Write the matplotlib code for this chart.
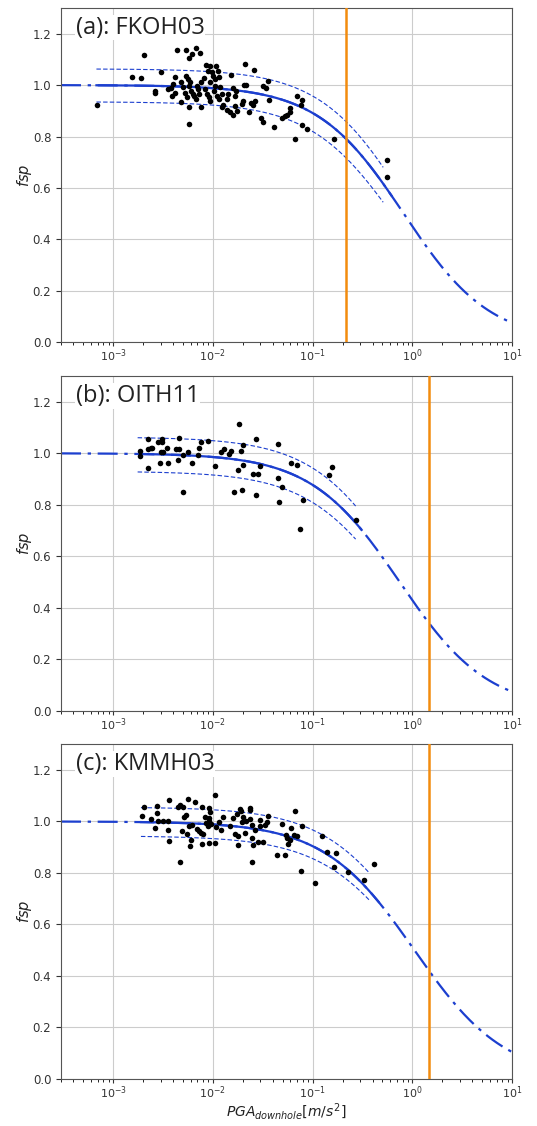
import numpy as np
import matplotlib.pyplot as plt

# panel titles and the vertical reference PGA line [m/s^2]
stations = ['(a): FKOH03', '(b): OITH11', '(c): KMMH03']
pga_ref = [0.217, 1.47, 1.48]

# hyperbolic fit fsp = amp / (1 + (pga / pga_r)**n) and its +/- bands
fit_pga_r = [0.82, 0.745, 1.047]
fit_n = [1.0, 0.978, 0.955]
upper_amp = [1.063, 1.063, 1.056]
upper_pga_r = [0.906, 0.82, 1.22]
lower_amp = [0.935, 0.93, 0.944]
lower_pga_r = [0.711, 0.696, 1.08]
# pga range covered by the records (solid fit) and by the bands
fit_range = [(6.8e-4, 0.62), (1.85e-3, 0.31), (1.9e-3, 0.46)]
band_range = [(6.8e-4, 0.51), (1.76e-3, 0.27), (1.9e-3, 0.37)]

# records: log10(PGA downhole) and fsp
a_log_pga = [-3.163, -2.811, -2.724, -2.691, -2.584, -2.577, -2.525, -2.447, -2.415, -2.408,
             -2.382, -2.398, -2.356, -2.272, -2.239, -2.207, -2.174, -2.132, -2.376, -2.317,
             -2.268, -2.252, -2.226, -2.236, -2.220, -2.187, -2.171, -2.203, -2.324, -2.236,
             -2.242, -2.122, -2.301, -2.278, -2.259, -2.154, -2.138, -2.161, -2.115, -2.089,
             -2.073, -2.050, -2.031, -2.008, -1.969, -1.950, -2.083, -2.057, -2.041, -2.024,
             -1.992, -1.959, -1.937, -1.911, -1.976, -1.927, -1.976, -1.943, -2.024, -1.998,
             -1.911, -1.894, -1.862, -1.829, -1.797, -1.754, -1.780, -1.862, -1.846, -1.823,
             -1.797, -1.771, -1.780, -1.706, -1.683, -1.667, -1.699, -1.673, -1.589, -1.641,
             -1.602, -1.576, -1.618, -1.514, -1.498, -1.498, -1.472, -1.446, -1.439, -1.390,
             -1.302, -1.276, -1.257, -1.231, -1.224, -1.179, -1.153, -1.107, -1.114, -1.107,
             -1.052, -0.789, -0.255, -0.255]
a_fsp = [0.922, 1.032, 1.026, 1.118, 0.978, 0.969, 1.049, 0.984, 0.987, 0.958,
         0.971, 1.004, 1.138, 1.138, 1.104, 1.121, 1.144, 1.125, 1.032, 1.013,
         1.036, 1.023, 1.010, 0.995, 0.978, 0.958, 0.945, 0.965, 0.935, 0.913,
         0.848, 0.916, 0.991, 0.971, 0.952, 0.984, 0.965, 0.997, 1.010, 1.026,
         1.078, 1.056, 1.075, 1.049, 1.073, 1.056, 0.984, 0.965, 0.952, 0.939,
         0.978, 0.958, 0.945, 0.965, 0.997, 0.991, 1.023, 1.030, 1.010, 1.036,
         0.913, 0.922, 0.904, 0.894, 0.883, 0.900, 0.919, 0.945, 0.965, 1.039,
         0.987, 0.978, 0.958, 0.926, 1.000, 1.000, 0.939, 1.082, 1.058, 0.896,
         0.922, 0.939, 0.930, 0.870, 0.855, 0.995, 0.990, 1.017, 0.943, 0.838,
         0.870, 0.878, 0.883, 0.910, 0.894, 0.790, 0.958, 0.942, 0.922, 0.844,
         0.831, 0.792, 0.707, 0.643]

b_log_pga = [-2.732, -2.732, -2.654, -2.651, -2.621, -2.611, -2.651, -2.554, -2.513, -2.510,
             -2.527, -2.446, -2.520, -2.497, -2.460, -2.369, -2.336, -2.346, -2.339, -2.302,
             -2.295, -2.248, -2.208, -2.151, -2.141, -2.117, -2.050, -1.983, -1.916, -1.893,
             -1.839, -1.815, -1.792, -1.738, -1.745, -1.698, -1.715, -1.698, -1.711, -1.597,
             -1.547, -1.530, -1.570, -1.570, -1.352, -1.352, -1.339, -1.302, -1.218, -1.158,
             -1.128, -1.094, -0.832, -0.809, -0.564]
b_fsp = [1.009, 0.990, 1.057, 1.016, 1.019, 1.022, 0.942, 1.042, 1.055, 1.045,
         0.962, 0.962, 1.003, 1.006, 1.019, 1.016, 1.016, 0.973, 1.058, 0.849,
         0.994, 1.003, 0.961, 0.994, 1.022, 1.045, 1.048, 0.951, 1.006, 1.016,
         0.999, 1.009, 0.849, 1.113, 0.936, 0.953, 1.009, 1.032, 0.856, 0.918,
         0.918, 0.949, 1.057, 0.838, 1.035, 0.905, 0.812, 0.870, 0.961, 0.955,
         0.704, 0.817, 0.916, 0.947, 0.740]

c_log_pga = [-2.711, -2.695, -2.621, -2.584, -2.557, -2.557, -2.554, -2.503, -2.453, -2.440,
             -2.446, -2.436, -2.352, -2.329, -2.302, -2.329, -2.312, -2.285, -2.268, -2.258,
             -2.218, -2.225, -2.248, -2.235, -2.208, -2.181, -2.158, -2.144, -2.121, -2.101,
             -2.114, -2.107, -2.081, -2.067, -2.050, -2.034, -2.034, -2.017, -2.034, -2.027,
             -2.037, -1.980, -1.980, -1.973, -1.940, -1.916, -1.899, -1.826, -1.782, -1.752,
             -1.745, -1.799, -1.758, -1.725, -1.715, -1.698, -1.681, -1.705, -1.664, -1.631,
             -1.624, -1.611, -1.604, -1.597, -1.547, -1.497, -1.604, -1.581, -1.530, -1.480,
             -1.456, -1.631, -1.530, -1.446, -1.362, -1.312, -1.272, -1.268, -1.255, -1.242,
             -1.228, -1.221, -1.185, -1.178, -1.161, -1.117, -1.111, -0.977, -0.909, -0.859,
             -0.782, -0.768, -0.641, -0.483, -0.389]
c_fsp = [1.022, 1.058, 1.010, 0.974, 1.062, 1.032, 1.000, 1.000, 1.003, 1.082,
         0.968, 0.925, 1.058, 1.065, 1.058, 0.844, 0.961, 1.019, 1.026, 0.952,
         0.929, 0.905, 1.087, 0.981, 0.987, 1.074, 0.970, 0.962, 0.955, 0.952,
         0.913, 1.056, 1.019, 0.994, 0.981, 1.013, 1.000, 0.991, 1.052, 1.035,
         0.918, 1.104, 0.916, 0.978, 0.996, 0.968, 1.019, 0.983, 0.951, 0.942,
         0.909, 1.013, 1.030, 1.048, 1.039, 1.019, 0.955, 0.996, 1.003, 1.009,
         1.052, 0.842, 0.935, 0.909, 0.922, 0.922, 0.987, 0.968, 0.983, 0.987,
         0.996, 1.045, 1.004, 1.022, 0.870, 0.991, 0.870, 0.947, 0.935, 0.913,
         0.926, 0.974, 0.948, 1.039, 0.945, 0.808, 0.981, 0.760, 0.942, 0.883,
         0.822, 0.877, 0.805, 0.773, 0.834]

records = [(a_log_pga, a_fsp), (b_log_pga, b_fsp), (c_log_pga, c_fsp)]

BLUE = '#1c3fcf'
ORANGE = '#f28c0f'


def hyper(pga, amp, pga_r, n):
    return amp / (1.0 + (pga / pga_r) ** n)


fig = plt.figure(figsize=(5.37, 11.26), dpi=100)
bottoms = [0.6960, 0.3690, 0.0420]

for i in range(3):
    ax = fig.add_axes([0.1136, bottoms[i], 0.840, 0.2970])
    ax.set_xscale('log')
    ax.set_xlim(3e-4, 10)
    ax.set_ylim(0, 1.3)
    ax.grid(True, which='major', color='#cccccc', lw=0.8)
    ax.set_axisbelow(True)

    # full model (dash-dot) and the fitted range (solid)
    x_all = np.logspace(np.log10(3e-4), 1, 300)
    ax.plot(x_all, hyper(x_all, 1.0, fit_pga_r[i], fit_n[i]), '-.', color=BLUE, lw=1.6,
            dashes=(9, 3, 1.5, 3))
    x_fit = np.logspace(np.log10(fit_range[i][0]), np.log10(fit_range[i][1]), 200)
    ax.plot(x_fit, hyper(x_fit, 1.0, fit_pga_r[i], fit_n[i]), '-', color=BLUE, lw=1.6)
    x_band = np.logspace(np.log10(band_range[i][0]), np.log10(band_range[i][1]), 200)
    ax.plot(x_band, hyper(x_band, upper_amp[i], upper_pga_r[i], fit_n[i]), '--',
            color=BLUE, lw=0.8, dashes=(4, 2))
    ax.plot(x_band, hyper(x_band, lower_amp[i], lower_pga_r[i], fit_n[i]), '--',
            color=BLUE, lw=0.8, dashes=(4, 2))

    lp, fs = records[i]
    ax.scatter(10 ** np.array(lp), fs, s=16, color='black', zorder=3, linewidths=0)
    ax.axvline(pga_ref[i], color=ORANGE, lw=1.8, zorder=4)

    ax.text(0.033, 1.2 / 1.3, stations[i], transform=ax.transAxes, fontsize=17,
            family='Open Sans', va='baseline', ha='left', color='#222222', zorder=5,
            bbox=dict(facecolor='white', edgecolor='none', pad=0.5))

    ax.set_yticks([0.0, 0.2, 0.4, 0.6, 0.8, 1.0, 1.2])
    ax.tick_params(labelsize=8.5, colors='#333333')
    ax.tick_params(axis='x', which='major', pad=1, length=3, labelsize=8)
    ax.tick_params(axis='x', which='minor', length=1.8)
    for sp in ax.spines.values():
        sp.set_color('#555555')
    ax.set_ylabel('$fsp$', fontsize=10.5, color='#222222')
    ax.yaxis.set_label_coords(-0.06, 0.5)
    if i == 2:
        ax.set_xlabel('$PGA_{downhole}[m/s^2]$', fontsize=10, color='#222222')
        ax.xaxis.set_label_coords(0.5, -0.068)

plt.savefig('out.png', dpi=100)
